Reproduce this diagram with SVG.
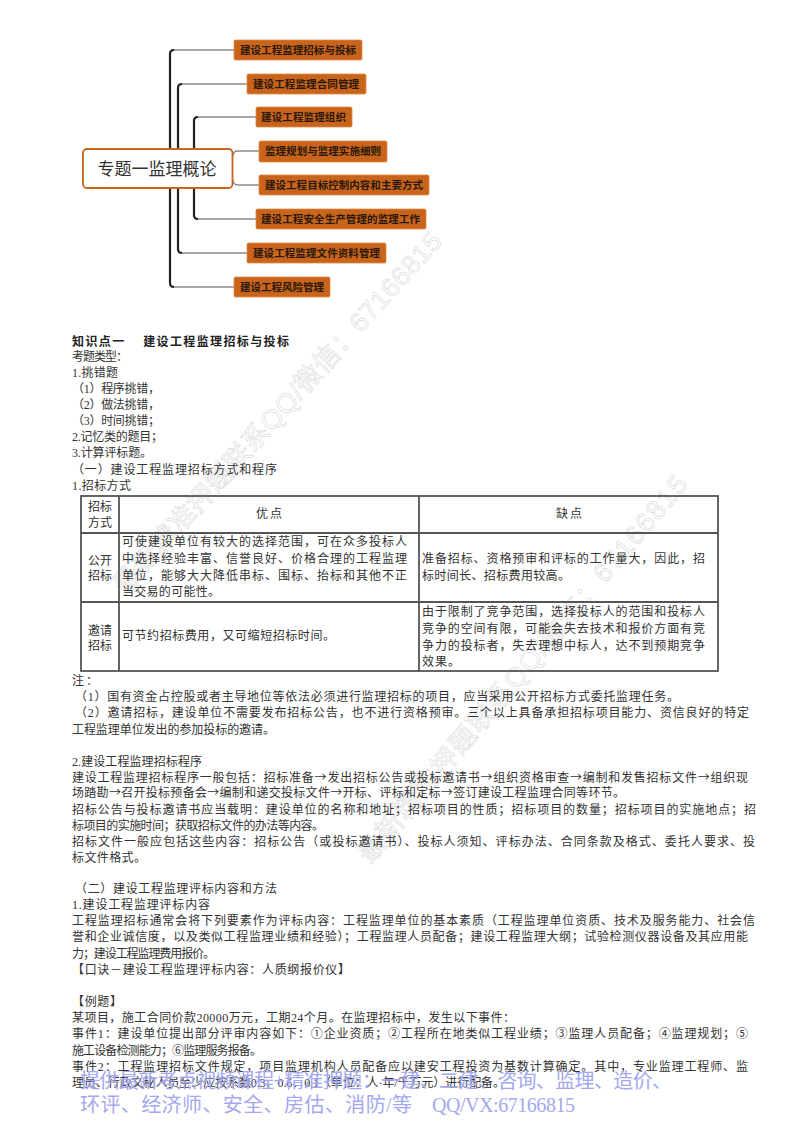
<svg xmlns="http://www.w3.org/2000/svg" width="800" height="1132" viewBox="0 0 800 1132">
<style>
text{font-family:"Liberation Serif","Noto Sans CJK SC",sans-serif;font-size:12px;fill:#333}
.b{font-weight:bold;fill:#222}
.c{text-anchor:middle}
.a{font-family:"Noto Sans CJK SC",sans-serif}
.wm{font-family:"Liberation Sans","Noto Sans CJK SC",sans-serif;font-size:27px;fill:none;stroke:#d0d0d0;stroke-width:.5}
.blue{font-size:20px;fill:#a3a8f0}
.n rect{fill:#c8641c;stroke:#e08a45;stroke-width:.8}
.n text{font-family:"Noto Sans CJK SC",sans-serif;font-size:10.5px;font-weight:bold;fill:#2a1808}
.v{fill:none;stroke:#222;stroke-width:2.2}
.h{fill:none;stroke:#8a8a8a;stroke-width:1.4}
.t{fill:none;stroke:#555;stroke-width:1.8}
</style>
<g id="watermarks">
<text class="wm" transform="translate(125 596) rotate(-48)" textLength="476" lengthAdjust="spacing">最新精准押题联系QQ/微信：67166815</text>
<text class="wm" transform="translate(370 865) rotate(-50)" textLength="496" lengthAdjust="spacing">最新精准押题联系QQ/微信：67166815</text>
</g>
<g id="connectors">
<path class="v" d="M170 149V54Q170 50 174 50"/><path class="h" d="M174 50H234"/>
<path class="v" d="M178 149V88Q178 84 182 84"/><path class="h" d="M182 84H247"/>
<path class="v" d="M194 149V121Q194 117 198 117"/><path class="h" d="M198 117H256"/>
<path class="h" d="M233 156Q233 151 238 151H259"/>
<path class="h" d="M233 180Q233 185 238 185H259"/>
<path class="v" d="M194 188V215Q194 219 198 219"/><path class="h" d="M198 219H256"/>
<path class="v" d="M178 188V249Q178 253 182 253"/><path class="h" d="M182 253H247"/>
<path class="v" d="M170 188V283Q170 287 174 287"/><path class="h" d="M174 287H234"/>
</g>
<g id="root"><rect x="83" y="149" width="149.500" height="39" rx="4" fill="#fff" stroke="#c8641c" stroke-width="1.800"/><text x="157" y="175" class="c" style="font-family:'Noto Sans CJK SC',sans-serif;font-size:17px;fill:#333">专题一监理概论</text></g>
<g id="n1" class="n"><rect x="234" y="40" width="128" height="20" rx="1.500"/><text x="240" y="54" textLength="116">建设工程监理招标与投标</text></g>
<g id="n2" class="n"><rect x="247" y="74" width="119" height="20" rx="1.500"/><text x="253" y="88" textLength="106">建设工程监理合同管理</text></g>
<g id="n3" class="n"><rect x="256" y="107" width="96" height="20" rx="1.500"/><text x="261" y="121" textLength="85">建设工程监理组织</text></g>
<g id="n4" class="n"><rect x="259" y="141" width="128" height="21" rx="1.500"/><text x="265" y="155" textLength="116">监理规划与监理实施细则</text></g>
<g id="n5" class="n"><rect x="259" y="175" width="170" height="20" rx="1.500"/><text x="265" y="189" textLength="158">建设工程目标控制内容和主要方式</text></g>
<g id="n6" class="n"><rect x="256" y="209" width="170" height="20" rx="1.500"/><text x="261" y="223" textLength="159">建设工程安全生产管理的监理工作</text></g>
<g id="n7" class="n"><rect x="247" y="243" width="139" height="20" rx="1.500"/><text x="253" y="257" textLength="127">建设工程监理文件资料管理</text></g>
<g id="n8" class="n"><rect x="234" y="277" width="96" height="20" rx="1.500"/><text x="240" y="291" textLength="84">建设工程风险管理</text></g>
<g id="body">
<text class="b" x="72" y="346" textLength="217">知识点一　 建设工程监理招标与投标</text>
<text x="72" y="361" textLength="56">考题类型：</text>
<text x="72" y="377" textLength="46">1.挑错题</text>
<text x="72" y="393" textLength="88">（1）程序挑错，</text>
<text x="72" y="409" textLength="88">（2）做法挑错，</text>
<text x="72" y="425" textLength="88">（3）时间挑错；</text>
<text x="72" y="441" textLength="91">2.记忆类的题目；</text>
<text x="72" y="457" textLength="80">3.计算评标题。</text>
<text x="72" y="474" textLength="205">（一）建设工程监理招标方式和程序</text>
<text x="72" y="490" textLength="59">1.招标方式</text>
</g>
<g id="table">
<rect class="t" x="81" y="496" width="637" height="175"/>
<path class="t" d="M119 496V671M419 496V671M81 533H718M81 602H718"/>
<text x="100" y="511" class="c">招标</text><text x="100" y="527" class="c">方式</text>
<text x="269" y="518" class="c" textLength="26">优点</text><text x="569" y="518" class="c" textLength="26">缺点</text>
<text x="100" y="565" class="c">公开</text><text x="100" y="580" class="c">招标</text>
<text x="122" y="546" textLength="285">可使建设单位有较大的选择范围，可在众多投标人</text>
<text x="122" y="563" textLength="285">中选择经验丰富、信誉良好、价格合理的工程监理</text>
<text x="122" y="580" textLength="285">单位，能够大大降低串标、围标、抬标和其他不正</text>
<text x="122" y="596" textLength="98">当交易的可能性。</text>
<text x="422" y="563" textLength="283">准备招标、资格预审和评标的工作量大，因此，招</text>
<text x="422" y="580" textLength="148">标时间长、招标费用较高。</text>
<text x="100" y="635" class="c">邀请</text><text x="100" y="650" class="c">招标</text>
<text x="122" y="640" textLength="213">可节约招标费用，又可缩短招标时间。</text>
<text x="422" y="616" textLength="283">由于限制了竞争范围，选择投标人的范围和投标人</text>
<text x="422" y="633" textLength="283">竞争的空间有限，可能会失去技术和报价方面有竞</text>
<text x="422" y="650" textLength="283">争力的投标者，失去理想中标人，达不到预期竞争</text>
<text x="422" y="666" textLength="38">效果。</text>
</g>
<g id="body2">
<text x="72" y="685" textLength="26">注：</text>
<text x="75" y="701" textLength="604">（1）国有资金占控股或者主导地位等依法必须进行监理招标的项目，应当采用公开招标方式委托监理任务。</text>
<text x="75" y="717" textLength="674">（2）邀请招标，建设单位不需要发布招标公告，也不进行资格预审。三个以上具备承担招标项目能力、资信良好的特定</text>
<text x="72" y="734" textLength="203">工程监理单位发出的参加投标的邀请。</text>
<text x="72" y="766" textLength="130">2.建设工程监理招标程序</text>
<text x="72" y="782" textLength="676">建设工程监理招标程序一般包括：招标准备<tspan class="a">→</tspan>发出招标公告或投标邀请书<tspan class="a">→</tspan>组织资格审查<tspan class="a">→</tspan>编制和发售招标文件<tspan class="a">→</tspan>组织现</text>
<text x="72" y="797" textLength="553">场踏勘<tspan class="a">→</tspan>召开投标预备会<tspan class="a">→</tspan>编制和递交投标文件<tspan class="a">→</tspan>开标、评标和定标<tspan class="a">→</tspan>签订建设工程监理合同等环节。</text>
<text x="72" y="814" textLength="684">招标公告与投标邀请书应当载明：建设单位的名称和地址；招标项目的性质；招标项目的数量；招标项目的实施地点；招</text>
<text x="72" y="830" textLength="252">标项目的实施时间；获取招标文件的办法等内容。</text>
<text x="72" y="846" textLength="683">招标文件一般应包括这些内容：招标公告（或投标邀请书）、投标人须知、评标办法、合同条款及格式、委托人要求、投</text>
<text x="72" y="862" textLength="74">标文件格式。</text>
<text x="75" y="893" textLength="202">（二）建设工程监理评标内容和方法</text>
<text x="72" y="909" textLength="138">1.建设工程监理评标内容</text>
<text x="72" y="925" textLength="683">工程监理招标通常会将下列要素作为评标内容：工程监理单位的基本素质（工程监理单位资质、技术及服务能力、社会信</text>
<text x="72" y="941" textLength="676">誉和企业诚信度，以及类似工程监理业绩和经验）；工程监理人员配备；建设工程监理大纲；试验检测仪器设备及其应用能</text>
<text x="72" y="958" textLength="143">力；建设工程监理费用报价。</text>
<text x="72" y="974" textLength="278">【口诀－建设工程监理评标内容：人质纲报价仪】</text>
<text x="72" y="1006" textLength="50">【例题】</text>
<text x="72" y="1022" textLength="443">某项目，施工合同价款20000万元，工期24个月。在监理招标中，发生以下事件：</text>
<text x="72" y="1038" textLength="676">事件1：建设单位提出部分评审内容如下：①企业资质；②工程所在地类似工程业绩；③监理人员配备；④监理规划；⑤</text>
<text x="72" y="1055" textLength="190">施工设备检测能力；⑥监理服务报备。</text>
<text x="72" y="1071" textLength="676">事件2：工程监理招标文件规定，项目监理机构人员配备应以建安工程投资为基数计算确定。其中，专业监理工程师、监</text>
<text x="72" y="1087" textLength="433">理员、行政文秘人员至少应按系数0.3、0.6、0.1（单位：人·年/千万元）进行配备。</text>
</g>
<g id="footer">
<text class="blue" x="80" y="1088" textLength="592">提供最新考点视频课程+精准押题：一建、二建、咨询、监理、造价、</text>
<text class="blue" x="80" y="1112" textLength="332">环评、经济师、安全、房估、消防/等</text>
<text class="blue" x="432" y="1112" textLength="143">QQ/VX:67166815</text>
</g>
</svg>
